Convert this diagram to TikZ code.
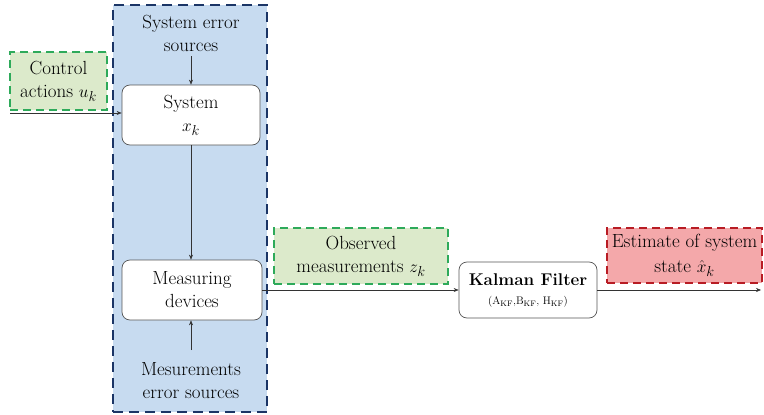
\documentclass[tikz,border=0pt]{standalone}
\usetikzlibrary{arrows.meta}
\definecolor{bluefill}{HTML}{C7DBF0}
\definecolor{blueedge}{HTML}{1B3566}
\definecolor{greenfill}{HTML}{DCEACB}
\definecolor{greenedge}{HTML}{2EAA5A}
\definecolor{redfill}{HTML}{F4A8AA}
\definecolor{rededge}{HTML}{B81C24}
\definecolor{boxedge}{HTML}{555555}
\newcommand{\bigtxt}{\fontsize{19}{23}\selectfont}
\tikzset{
  txt/.style={font=\bigtxt, align=center, inner sep=0pt},
  whitebox/.style={draw=boxedge, fill=white, rounded corners=8pt, line width=0.7pt, minimum width=138pt, minimum height=60pt, font=\bigtxt, align=center, inner sep=0pt},
  greenbox/.style={draw=greenedge, fill=greenfill, line width=2pt, dash pattern=on 8pt off 5pt, font=\bigtxt, align=center, inner sep=0pt},
  redbox/.style={draw=rededge, fill=redfill, line width=2pt, dash pattern=on 8pt off 5pt, font=\fontsize{19}{25}\selectfont, align=center, inner sep=0pt},
  conn/.style={draw=black!80, line width=0.5pt, -{Stealth[length=5pt,width=4pt]}},
}
\begin{document}
\begin{tikzpicture}[x=1pt,y=-1pt]
\useasboundingbox (0,0) rectangle (764,415);
% blue region
\node[draw=blueedge, fill=bluefill, line width=2.5pt, dash pattern=on 10pt off 6pt, minimum width=154pt, minimum height=407pt, inner sep=0pt] (region) at (190,208.5) {};
% green control box
\node[greenbox, minimum width=97pt, minimum height=58pt] (ctrl) at (58.5,81) {Control\\actions $u_k$};
\coordinate (in) at (10,113);
% system error sources
\node[txt] (syserr) at (191,33) {System error\\sources};
\node[whitebox] (sys) at (191,115) {System\\$x_k$};
\node[whitebox, minimum width=140pt] (meas) at (192,290) {Measuring\\devices};
\node[txt] (measerr) at (191,381) {Mesurements\\error sources};
% observed
\node[greenbox, minimum width=174pt, minimum height=56pt] (obs) at (361,256) {Observed\\measurements $z_k$};
% kalman
\node[whitebox, minimum width=138pt, minimum height=56pt] (kf) at (528,290) {};
\node[font=\fontsize{17}{19}\selectfont\bfseries, inner sep=0pt] (kft) at (528,280) {Kalman Filter};
\node[font=\fontsize{11}{13}\selectfont, inner sep=0pt] (kfp) at (528,302) {(A$_{\mathrm{KF}}$,B$_{\mathrm{KF}}$, H$_{\mathrm{KF}}$)};
% estimate
\node[redbox, minimum width=155pt, minimum height=55pt] (est) at (684.5,255.5) {Estimate of system\\state $\hat{x}_k$};
\coordinate (out) at (761,290);
% connectors
\draw[conn] (in) -- (in -| sys.west);
\draw[conn] (syserr.south -| sys.north) ++(0,5) -- (sys.north);
\draw[conn] (sys.south) -- (meas.north -| sys.south);
\draw[conn] (191,350) -- (meas.south -| 191,0);
\draw[conn] (meas.east) -- (kf.west);
\draw[conn] (kf.east) -- (out);
\end{tikzpicture}
\end{document}
